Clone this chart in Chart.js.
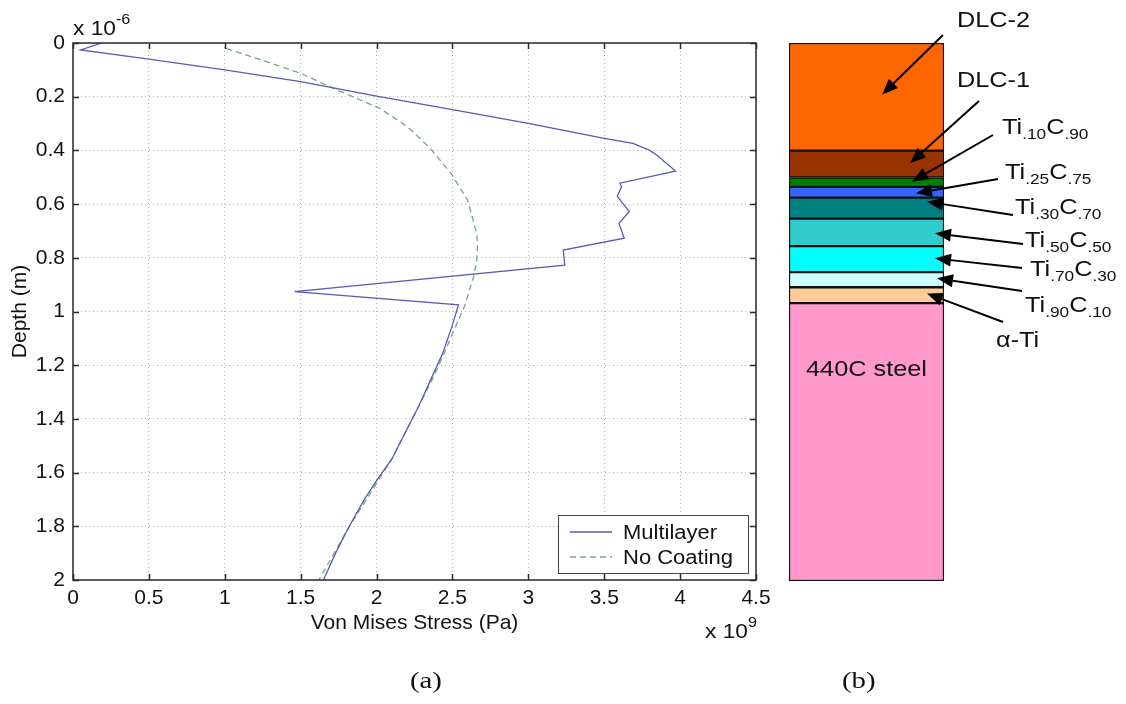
<!DOCTYPE html>
<html>
<head>
<meta charset="utf-8">
<script src="https://cdn.jsdelivr.net/npm/chart.js@4.4.0/dist/chart.umd.min.js"></script>
<style>
html,body{margin:0;padding:0;background:#fff;}
body{width:1126px;height:704px;position:relative;overflow:hidden;font-family:"Liberation Sans",Arial,sans-serif;color:#111;}
#cA{position:absolute;left:0;top:0;}
#cB{position:absolute;left:760px;top:0;}
.mult{position:absolute;white-space:nowrap;font-size:21px;line-height:21px;transform:scaleX(1.08);transform-origin:0 0;}
.mult sup{font-size:15px;vertical-align:baseline;position:relative;top:-11px;}
.lab{position:absolute;white-space:nowrap;font-size:22px;line-height:22px;transform:scaleX(1.15);transform-origin:0 0;}
.lab sub{font-size:15px;vertical-align:baseline;position:relative;top:5px;}
.cap{position:absolute;white-space:nowrap;font-family:"Liberation Serif","Times New Roman",serif;font-size:24px;line-height:24px;transform:scaleX(1.2);transform-origin:0 0;}
</style>
</head>
<body>
<canvas id="cA" width="800" height="704"></canvas>
<canvas id="cB" width="366" height="704"></canvas>

<div class="mult" style="left:73px;top:17px;">x 10<sup>-6</sup></div>
<div class="mult" style="left:705px;top:620px;">x 10<sup>9</sup></div>

<div class="lab" style="left:957px;top:9px;">DLC-2</div>
<div class="lab" style="left:957px;top:69px;">DLC-1</div>
<div class="lab" style="left:1002px;top:116px;">Ti<sub>.10</sub>C<sub>.90</sub></div>
<div class="lab" style="left:1005px;top:161px;">Ti<sub>.25</sub>C<sub>.75</sub></div>
<div class="lab" style="left:1015px;top:196px;">Ti<sub>.30</sub>C<sub>.70</sub></div>
<div class="lab" style="left:1025px;top:229px;">Ti<sub>.50</sub>C<sub>.50</sub></div>
<div class="lab" style="left:1030px;top:258px;">Ti<sub>.70</sub>C<sub>.30</sub></div>
<div class="lab" style="left:1025px;top:294px;">Ti<sub>.90</sub>C<sub>.10</sub></div>
<div class="lab" style="left:996px;top:329px;">α-Ti</div>
<div class="lab" style="left:806px;top:358px;">440C steel</div>

<div class="cap" style="left:410px;top:668px;">(a)</div>
<div class="cap" style="left:842px;top:668px;">(b)</div>

<script>
// ---------- data (stress in units of 1e9 Pa, depth in units of 1e-6 m) ----------
const stressTicks = [0, 0.5, 1, 1.5, 2, 2.5, 3, 3.5, 4, 4.5];
const stressTickLabels = ['0', '0.5', '1', '1.5', '2', '2.5', '3', '3.5', '4', '4.5'];
const depthTicks = [0, 0.2, 0.4, 0.6, 0.8, 1, 1.2, 1.4, 1.6, 1.8, 2];
const depthTickLabels = ['0', '0.2', '0.4', '0.6', '0.8', '1', '1.2', '1.4', '1.6', '1.8', '2'];

const multilayerStress = [0.19, 0.05, 0.5, 1.0, 1.5, 2.0, 2.5, 3.0, 3.5, 3.69, 3.80, 3.845, 3.97,
  3.603, 3.614, 3.586, 3.665, 3.597, 3.632, 3.23, 3.24, 1.46, 2.54,
  2.50, 2.44, 2.36, 2.28, 2.19, 2.10, 2.00, 1.92, 1.82, 1.73, 1.65];
const multilayerDepth = [0, 0.026, 0.06, 0.10, 0.144, 0.198, 0.248, 0.299, 0.355, 0.374, 0.40, 0.417, 0.477,
  0.522, 0.535, 0.570, 0.628, 0.672, 0.727, 0.771, 0.827, 0.926, 0.975,
  1.05, 1.15, 1.25, 1.35, 1.45, 1.55, 1.63, 1.70, 1.80, 1.90, 2.0];

const noCoatingStress = [1.01, 1.25, 1.50, 1.74, 2.02, 2.20, 2.35, 2.49, 2.60, 2.66, 2.665, 2.66, 2.64, 2.58,
  2.51, 2.45, 2.37, 2.28, 2.19, 2.10, 2.00, 1.90, 1.80, 1.71, 1.62];
const noCoatingDepth = [0.02, 0.065, 0.113, 0.175, 0.243, 0.31, 0.39, 0.485, 0.585, 0.71, 0.76, 0.81, 0.87, 0.98,
  1.07, 1.15, 1.25, 1.35, 1.45, 1.55, 1.64, 1.73, 1.82, 1.91, 2.0];

const seriesNames = ['Multilayer', 'No Coating'];

const layerNames = ['DLC-2', 'DLC-1', 'Ti.10C.90', 'Ti.25C.75', 'Ti.30C.70', 'Ti.50C.50', 'Ti.70C.30', 'Ti.90C.10', 'α-Ti', '440C steel'];
const layerThickness = [0.40, 0.10, 0.035, 0.04, 0.078, 0.102, 0.097, 0.056, 0.059, 1.033];

// ---------- styles / layout ----------
const layerColors = ['#ff6600', '#993300', '#008000', '#3366ff', '#008080', '#33cccc', '#00ffff', '#ccffff', '#ffcc99', '#ff99cc'];
const FONT = '"Liberation Sans", Arial, sans-serif';
// arrows: layer index, position inside layer (fraction), tip x (page px), tail (page px)
const arrowLayout = [
  {layer: 0, frac: 0.48, tipX: 882, tailX: 943, tailY: 35},
  {layer: 1, frac: 0.47, tipX: 910, tailX: 979, tailY: 101},
  {layer: 2, frac: 0.45, tipX: 912, tailX: 993, tailY: 135},
  {layer: 3, frac: 0.60, tipX: 916, tailX: 998, tailY: 179},
  {layer: 4, frac: 0.19, tipX: 927, tailX: 1013, tailY: 215},
  {layer: 5, frac: 0.53, tipX: 935, tailX: 1023, tailY: 244},
  {layer: 6, frac: 0.47, tipX: 935, tailX: 1022, tailY: 268},
  {layer: 7, frac: 0.41, tipX: 937, tailX: 1022, tailY: 291},
  {layer: 8, frac: 0.39, tipX: 927, tailX: 1003, tailY: 322}
];
const canvasBLeft = 760;

// ---------- chart (a) ----------
const framePlugin = {
  id: 'frame',
  afterDraw(chart) {
    const {ctx, chartArea: a, scales: {x, y}} = chart;
    ctx.save();
    ctx.strokeStyle = '#2a2a2a';
    ctx.lineWidth = 1.5;
    ctx.strokeRect(a.left, a.top, a.right - a.left, a.bottom - a.top);
    ctx.beginPath();
    stressTicks.forEach(v => {
      const px = Math.round(x.getPixelForValue(v)) + 0.5;
      ctx.moveTo(px, a.bottom); ctx.lineTo(px, a.bottom - 6);
      ctx.moveTo(px, a.top); ctx.lineTo(px, a.top + 6);
    });
    depthTicks.forEach(v => {
      const py = Math.round(y.getPixelForValue(v)) + 0.5;
      ctx.moveTo(a.left, py); ctx.lineTo(a.left + 6, py);
      ctx.moveTo(a.right, py); ctx.lineTo(a.right - 6, py);
    });
    ctx.stroke();

    // legend box (inside, lower right)
    const bw = 190, bh = 58;
    const bx = a.right - 8 - bw, by = a.bottom - 7 - bh;
    ctx.fillStyle = '#fff';
    ctx.fillRect(bx, by, bw, bh);
    ctx.lineWidth = 1;
    ctx.strokeStyle = '#444';
    ctx.strokeRect(bx + 0.5, by + 0.5, bw, bh);
    chart.data.datasets.forEach((ds, i) => {
      const ly = by + 17 + i * 25;
      ctx.save();
      ctx.strokeStyle = ds.borderColor;
      ctx.lineWidth = ds.borderWidth;
      ctx.setLineDash(ds.borderDash || []);
      ctx.beginPath();
      ctx.moveTo(bx + 12, ly); ctx.lineTo(bx + 54, ly);
      ctx.stroke();
      ctx.restore();
      ctx.save();
      ctx.fillStyle = '#111';
      ctx.font = '20px ' + FONT;
      ctx.textBaseline = 'middle';
      ctx.translate(bx + 65, ly + 1);
      ctx.scale(1.1, 1);
      ctx.fillText(ds.label, 0, 0);
      ctx.restore();
    });
    ctx.restore();
  }
};

const toPoints = (xs, ys) => xs.map((v, i) => ({x: v, y: ys[i]}));

new Chart(document.getElementById('cA'), {
  type: 'scatter',
  data: {
    datasets: [
      {label: seriesNames[0], data: toPoints(multilayerStress, multilayerDepth), showLine: true,
       borderColor: '#5a5ab0', borderWidth: 1.3, pointRadius: 0, tension: 0, fill: false},
      {label: seriesNames[1], data: toPoints(noCoatingStress, noCoatingDepth), showLine: true,
       borderColor: '#7aa585', borderWidth: 1.3, borderDash: [6, 4], pointRadius: 0, tension: 0, fill: false}
    ]
  },
  options: {
    responsive: false,
    animation: false,
    layout: {padding: {left: 0, top: 43, right: 44, bottom: 0}},
    plugins: {legend: {display: false}, tooltip: {enabled: false}},
    scales: {
      x: {
        type: 'linear', min: 0, max: 4.5,
        afterBuildTicks: s => { s.ticks = stressTicks.map(v => ({value: v})); },
        afterFit: s => { s.height = 124; },
        ticks: {callback: (v, i) => stressTickLabels[i], font: {size: 21, family: FONT}, color: '#111',
                padding: 6, maxRotation: 0, autoSkip: false},
        grid: {color: '#b5b5b5', lineWidth: 1, drawTicks: false},
        border: {display: false, dash: [1, 3]},
        title: {display: true, text: 'Von Mises Stress (Pa)', font: {size: 21, family: FONT}, color: '#111',
                padding: {top: 0, bottom: 68}}
      },
      y: {
        type: 'linear', min: 0, max: 2, reverse: true,
        afterBuildTicks: s => { s.ticks = depthTicks.map(v => ({value: v})); },
        afterFit: s => { s.width = 73; },
        ticks: {callback: (v, i) => depthTickLabels[i], font: {size: 21, family: FONT}, color: '#111',
                padding: 8, autoSkip: false},
        grid: {color: '#b5b5b5', lineWidth: 1, drawTicks: false},
        border: {display: false, dash: [1, 3]},
        title: {display: true, text: 'Depth (m)', font: {size: 21, family: FONT}, color: '#111',
                padding: {top: 8, bottom: 0}}
      }
    }
  },
  plugins: [framePlugin]
});

// ---------- chart (b): layered coating as a single stacked bar ----------
const layerStarts = [];
layerThickness.reduce((acc, t, i) => { layerStarts[i] = acc; return acc + t; }, 0);

const arrowPlugin = {
  id: 'arrows',
  afterDraw(chart) {
    const {ctx, scales: {y}} = chart;
    ctx.save();
    ctx.strokeStyle = '#000';
    ctx.fillStyle = '#000';
    ctx.lineWidth = 2;
    arrowLayout.forEach(a => {
      const tipY = y.getPixelForValue(layerStarts[a.layer] + a.frac * layerThickness[a.layer]);
      const tipX = a.tipX - canvasBLeft;
      const tx = a.tailX - canvasBLeft, ty = a.tailY;
      const ang = Math.atan2(tipY - ty, tipX - tx);
      const L = 16, W = 6.5;
      const bxp = tipX - L * Math.cos(ang), byp = tipY - L * Math.sin(ang);
      ctx.beginPath();
      ctx.moveTo(tx, ty); ctx.lineTo(bxp, byp);
      ctx.stroke();
      ctx.beginPath();
      ctx.moveTo(tipX, tipY);
      ctx.lineTo(bxp + W * Math.sin(ang), byp - W * Math.cos(ang));
      ctx.lineTo(bxp - W * Math.sin(ang), byp + W * Math.cos(ang));
      ctx.closePath();
      ctx.fill();
    });
    ctx.restore();
  }
};

new Chart(document.getElementById('cB'), {
  type: 'bar',
  data: {
    labels: ['layers'],
    datasets: layerNames.map((n, i) => ({
      label: n, data: [layerThickness[i]], backgroundColor: layerColors[i],
      borderColor: '#111', borderWidth: 1.5, borderSkipped: false, stack: 's',
      barPercentage: 1, categoryPercentage: 1
    }))
  },
  options: {
    responsive: false,
    animation: false,
    layout: {padding: {left: 29, right: 182, top: 43, bottom: 123}},
    plugins: {legend: {display: false}, tooltip: {enabled: false}},
    scales: {
      x: {stacked: true, display: false},
      y: {stacked: true, display: false, reverse: true, min: 0, max: 2}
    }
  },
  plugins: [arrowPlugin]
});
</script>
</body>
</html>
